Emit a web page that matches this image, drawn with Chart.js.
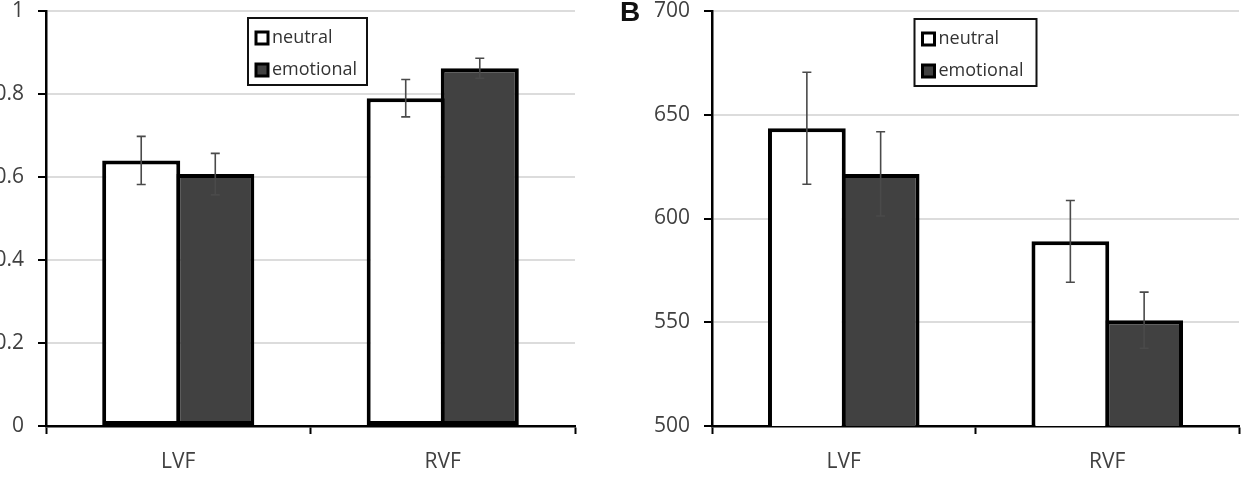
<!DOCTYPE html>
<html>
<head>
<meta charset="utf-8">
<script src="https://cdn.jsdelivr.net/npm/chart.js@4"></script>
<style>
  body { margin: 0; background: #fff; }
  #wrap { position: relative; width: 1243px; height: 481px; overflow: hidden; }
  canvas { position: absolute; top: 0; }
  #panelB { position: absolute; left: 620px; top: -2px; font: bold 28px "Liberation Sans", Arial, sans-serif; line-height: 28px; color: #111; }
</style>
</head>
<body>
<div id="wrap">
  <canvas id="chartA" width="590" height="481" style="left:0"></canvas>
  <canvas id="chartB" width="643" height="481" style="left:600px"></canvas>
  <div id="panelB">B</div>
</div>
<script>
// data
const categories = ["LVF", "RVF"];
const seriesNames = ["neutral", "emotional"];

// panel A (accuracy)
const accNeutral = [0.64, 0.79];
const accNeutralErr = [0.058, 0.045];
const accEmotional = [0.607, 0.862];
const accEmotionalErr = [0.05, 0.024];
const accTicks = ["0", "0.2", "0.4", "0.6", "0.8", "1"];

// panel B (reaction time)
const rtNeutral = [643.5, 589];
const rtNeutralErr = [27, 19.7];
const rtEmotional = [621.5, 551];
const rtEmotionalErr = [20.3, 13.5];
const rtTicks = ["500", "550", "600", "650", "700"];

const tickFont = { family: "'Open Sans', sans-serif", size: 21 };
const textColor = "#404040";

// error bars drawn from each dataset's errors through the y scale
const errorBars = {
    id: "errorBars",
    afterDatasetsDraw(chart) {
        const ctx = chart.ctx;
        const y = chart.scales.y;
        ctx.save();
        ctx.strokeStyle = "#4a4a4a";
        ctx.lineWidth = 1.6;
        chart.data.datasets.forEach((ds, i) => {
            chart.getDatasetMeta(i).data.forEach((bar, j) => {
                const v = ds.data[j], e = ds.errors[j];
                const top = y.getPixelForValue(v + e);
                const bot = y.getPixelForValue(v - e);
                ctx.beginPath();
                ctx.moveTo(bar.x, top); ctx.lineTo(bar.x, bot);
                ctx.moveTo(bar.x - 4.5, top); ctx.lineTo(bar.x + 4.5, top);
                ctx.moveTo(bar.x - 4.5, bot); ctx.lineTo(bar.x + 4.5, bot);
                ctx.stroke();
            });
        });
        ctx.restore();
    }
};

// boxed legend, two rows, centred near the top of the plot
const boxLegend = {
    id: "boxLegend",
    afterDraw(chart, args, opts) {
        const ctx = chart.ctx;
        const area = chart.chartArea;
        const w = opts.width, h = 67;
        const left = (area.left + area.right) / 2 - w / 2 + opts.shift;
        const top = opts.top;
        ctx.save();
        ctx.fillStyle = "#fff";
        ctx.fillRect(left, top, w, h);
        ctx.strokeStyle = "#111";
        ctx.lineWidth = 2;
        ctx.strokeRect(left, top, w, h);
        ctx.font = "18px 'Open Sans', sans-serif";
        ctx.textBaseline = "middle";
        chart.data.datasets.forEach((ds, i) => {
            const cy = top + 20 + i * 32;
            ctx.fillStyle = ds.backgroundColor;
            ctx.fillRect(left + 8, cy - 6, 12, 12);
            ctx.lineWidth = 3;
            ctx.strokeStyle = "#000";
            ctx.strokeRect(left + 8, cy - 6, 12, 12);
            ctx.fillStyle = "#333";
            ctx.fillText(ds.label, left + 24, cy);
        });
        ctx.restore();
    }
};

function grafico(id, neutral, neutralErr, emotional, emotionalErr, ticks, yMin, yMax, step, axisWidth, padRight, legendOpts) {
    const ctx = document.getElementById(id);
    new Chart(ctx, {
        type: "bar",
        data: {
            labels: categories,
            datasets: [
                {
                    label: seriesNames[0],
                    data: neutral,
                    errors: neutralErr,
                    backgroundColor: "#ffffff",
                    borderColor: "#000",
                    borderWidth: 4,
                    borderSkipped: false,
                },
                {
                    label: seriesNames[1],
                    data: emotional,
                    errors: emotionalErr,
                    backgroundColor: "#414141",
                    borderColor: "#000",
                    borderWidth: 4,
                    borderSkipped: false,
                },
            ],
        },
        options: {
            responsive: false,
            animation: false,
            devicePixelRatio: 1,
            categoryPercentage: 0.56,
            barPercentage: 1.054,
            layout: { padding: { top: 11, right: padRight, bottom: 0, left: 0 } },
            plugins: {
                legend: { display: false },
                tooltip: { enabled: false },
                boxLegend: legendOpts,
            },
            scales: {
                x: {
                    grid: { drawOnChartArea: false, drawTicks: true, tickLength: 8, tickColor: "#000", tickWidth: 2 },
                    border: { color: "#000", width: 2.5 },
                    ticks: { font: tickFont, color: textColor, padding: 15 },
                    afterFit(s) { s.height = 55; s.paddingLeft = 0; s.paddingRight = 0; },
                },
                y: {
                    min: yMin,
                    max: yMax,
                    grid: { color: "#dcdcdc", lineWidth: 2, tickLength: 8, tickColor: "#000", tickWidth: 2 },
                    border: { color: "#000", width: 2.5 },
                    ticks: {
                        stepSize: step,
                        font: tickFont,
                        color: textColor,
                        padding: 14,
                        callback: (v, i) => ticks[i],
                    },
                    afterFit(s) { s.width = axisWidth; s.paddingTop = 0; s.paddingBottom = 0; },
                },
            },
        },
        plugins: [errorBars, boxLegend],
    });
}

grafico("chartA", accNeutral, accNeutralErr, accEmotional, accEmotionalErr, accTicks, 0, 1, 0.2, 46, 15, { width: 119, top: 18, shift: -3 });
grafico("chartB", rtNeutral, rtNeutralErr, rtEmotional, rtEmotionalErr, rtTicks, 500, 700, 50, 112, 4, { width: 122, top: 19, shift: 0 });
</script>
</body>
</html>
